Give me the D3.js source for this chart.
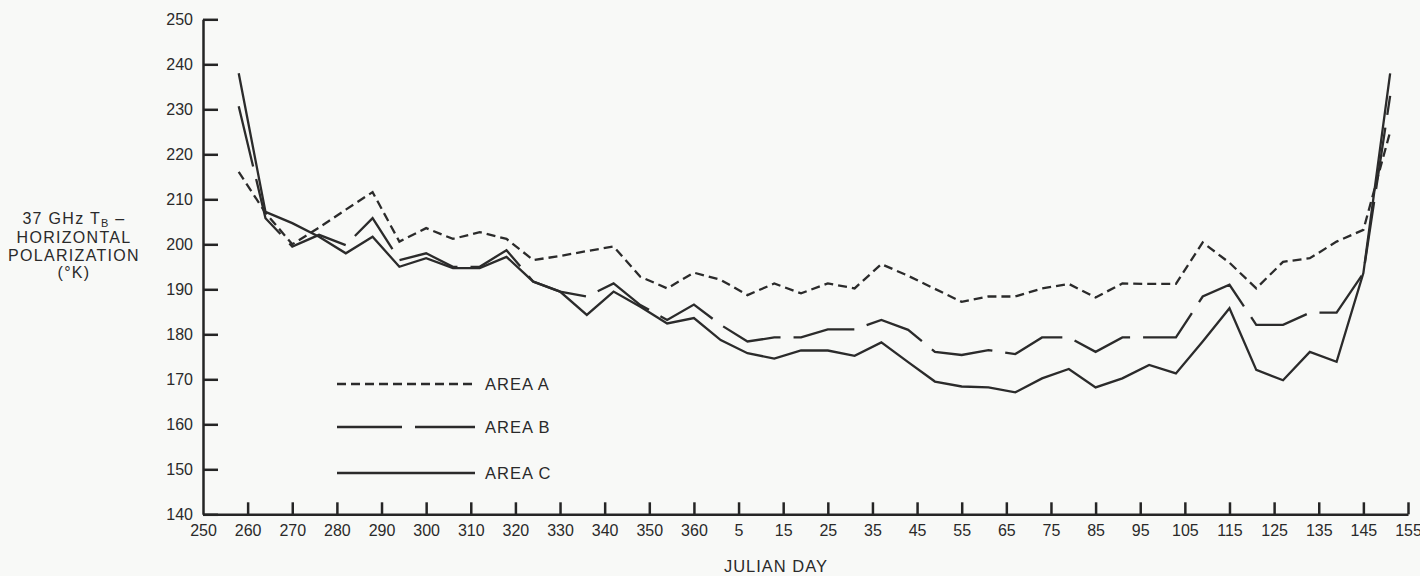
<!DOCTYPE html>
<html>
<head>
<meta charset="utf-8">
<script src="https://cdn.jsdelivr.net/npm/d3@7"></script>
<style>
  html, body { margin: 0; padding: 0; background: #f8f9f7; }
  svg { display: block; font-family: "Liberation Sans", Arial, Helvetica, sans-serif; }
  .axis path, .axis line { stroke: #252525; stroke-width: 2.5; }
  .axis text { fill: #2a2a2a; font-size: 16px; }
</style>
</head>
<body>
<svg id="chart" width="1420" height="576"></svg>
<script>
// Day of season (days after 365 belong to the following year: 370 = day 5)
const days = [258, 264, 270, 276, 282, 288, 294, 300, 306, 312, 318, 324, 330, 336, 342, 348, 354, 360,
              366, 372, 378, 384, 390, 396, 402, 408, 414, 420, 426, 432, 438, 444, 450, 456, 462, 468,
              474, 480, 486, 492, 498, 504, 510, 516];

const areaA = [216.1, 207.0, 200.0, 203.7, 207.7, 211.6, 200.6, 203.6, 201.2, 202.7, 201.2, 196.5, 197.4, 198.5,
               199.5, 192.8, 190.2, 193.7, 192.1, 188.7, 191.3, 189.1, 191.3, 190.2, 195.6, 193.0, 190.1, 187.2,
               188.4, 188.4, 190.2, 191.2, 188.2, 191.3, 191.2, 191.2, 200.4, 195.9, 190.2, 196.1, 196.9, 200.6,
               203.2, 225.0];

const areaB = [230.7, 205.8, 199.5, 202.1, 199.8, 205.8, 196.5, 198.0, 195.0, 195.0, 198.7, 191.7, 189.5, 188.4,
               191.3, 186.5, 183.2, 186.6, 182.1, 178.4, 179.3, 179.3, 181.1, 181.1, 183.2, 181.0, 176.1, 175.4,
               176.5, 175.6, 179.3, 179.3, 176.1, 179.3, 179.3, 179.3, 188.4, 191.0, 182.1, 182.1, 184.8, 184.8,
               193.6, 233.0];

const areaC = [238.0, 207.2, 204.7, 201.7, 198.0, 201.7, 195.0, 196.9, 194.7, 194.7, 197.2, 191.7, 189.5, 184.3,
               189.5, 186.1, 182.4, 183.6, 178.7, 175.8, 174.6, 176.4, 176.4, 175.2, 178.2, 173.8, 169.5, 168.4,
               168.2, 167.1, 170.2, 172.3, 168.2, 170.2, 173.2, 171.3, 178.4, 185.8, 172.1, 169.8, 176.1, 173.9,
               193.6, 238.0];

const xTickDays   = [250, 260, 270, 280, 290, 300, 310, 320, 330, 340, 350, 360, 370, 380, 390, 400, 410, 420,
                     430, 440, 450, 460, 470, 480, 490, 500, 510, 520];
const xTickLabels = ["250", "260", "270", "280", "290", "300", "310", "320", "330", "340", "350", "360", "5", "15",
                     "25", "35", "45", "55", "65", "75", "85", "95", "105", "115", "125", "135", "145", "155"];
const yTicks = [140, 150, 160, 170, 180, 190, 200, 210, 220, 230, 240, 250];

const seriesNames = ["AREA A", "AREA B", "AREA C"];
const seriesDash = ["9,5", "62,13", null];

const svg = d3.select("#chart");
const x = d3.scaleLinear().domain([250, 520]).range([203, 1408]);
const y = d3.scaleLinear().domain([140, 250]).range([514.3, 19.3]);

// Y axis (ticks pointing inward)
svg.append("g").attr("class", "axis")
  .attr("transform", `translate(${x(250)},0)`)
  .call(d3.axisLeft(y).tickValues(yTicks).tickSizeInner(-15).tickSizeOuter(0).tickPadding(10).tickFormat(d3.format("d")));

// X axis (ticks pointing up)
const xAxisG = svg.append("g").attr("class", "axis")
  .attr("transform", `translate(0,${y(140)})`)
  .call(d3.axisBottom(x).tickValues(xTickDays).tickSizeInner(-12).tickSizeOuter(0).tickPadding(10)
    .tickFormat((d, i) => xTickLabels[i]));
xAxisG.selectAll(".tick").filter(d => d === 250).select("line").remove();
xAxisG.selectAll("text").attr("font-size", 16.5);

// Series lines
const line = d3.line().x((d, i) => x(days[i])).y(d => y(d));
[areaA, areaB, areaC].forEach((vals, k) => {
  svg.append("path")
    .datum(vals)
    .attr("d", line)
    .attr("fill", "none")
    .attr("stroke", "#2b2b2b")
    .attr("stroke-width", 2.3)
    .attr("stroke-linejoin", "miter")
    .attr("stroke-dasharray", seriesDash[k]);
});

// Legend
const legendY = [384, 427, 473];
seriesNames.forEach((name, k) => {
  if (k === 1) {
    svg.append("line").attr("x1", 337).attr("x2", 402).attr("y1", legendY[k]).attr("y2", legendY[k])
      .attr("stroke", "#2b2b2b").attr("stroke-width", 2.3);
    svg.append("line").attr("x1", 415).attr("x2", 475).attr("y1", legendY[k]).attr("y2", legendY[k])
      .attr("stroke", "#2b2b2b").attr("stroke-width", 2.3);
  } else {
    svg.append("line").attr("x1", 337).attr("x2", 475).attr("y1", legendY[k]).attr("y2", legendY[k])
      .attr("stroke", "#2b2b2b").attr("stroke-width", 2.3)
      .attr("stroke-dasharray", k === 0 ? "9,5" : null);
  }
  svg.append("text").attr("x", 485).attr("y", legendY[k] + 6)
    .attr("font-size", 16.5).attr("letter-spacing", 1).attr("fill", "#2a2a2a").text(name);
});

// Y axis title
const yt = svg.append("text").attr("text-anchor", "middle").attr("font-size", 16)
  .attr("letter-spacing", 1.3).attr("fill", "#2a2a2a");
const l1 = yt.append("tspan").attr("x", 74).attr("y", 224);
l1.append("tspan").text("37 GHz T");
l1.append("tspan").attr("font-size", 11).attr("dy", 3).text("B");
l1.append("tspan").attr("dy", -3).text(" \u2013");
yt.append("tspan").attr("x", 74).attr("y", 243).text("HORIZONTAL");
yt.append("tspan").attr("x", 74).attr("y", 261).text("POLARIZATION");
yt.append("tspan").attr("x", 74).attr("y", 278).text("(\u00B0K)");

// X axis title
svg.append("text").attr("x", 776).attr("y", 572).attr("text-anchor", "middle")
  .attr("font-size", 16.5).attr("letter-spacing", 1).attr("fill", "#2a2a2a").text("JULIAN DAY");
</script>
</body>
</html>
